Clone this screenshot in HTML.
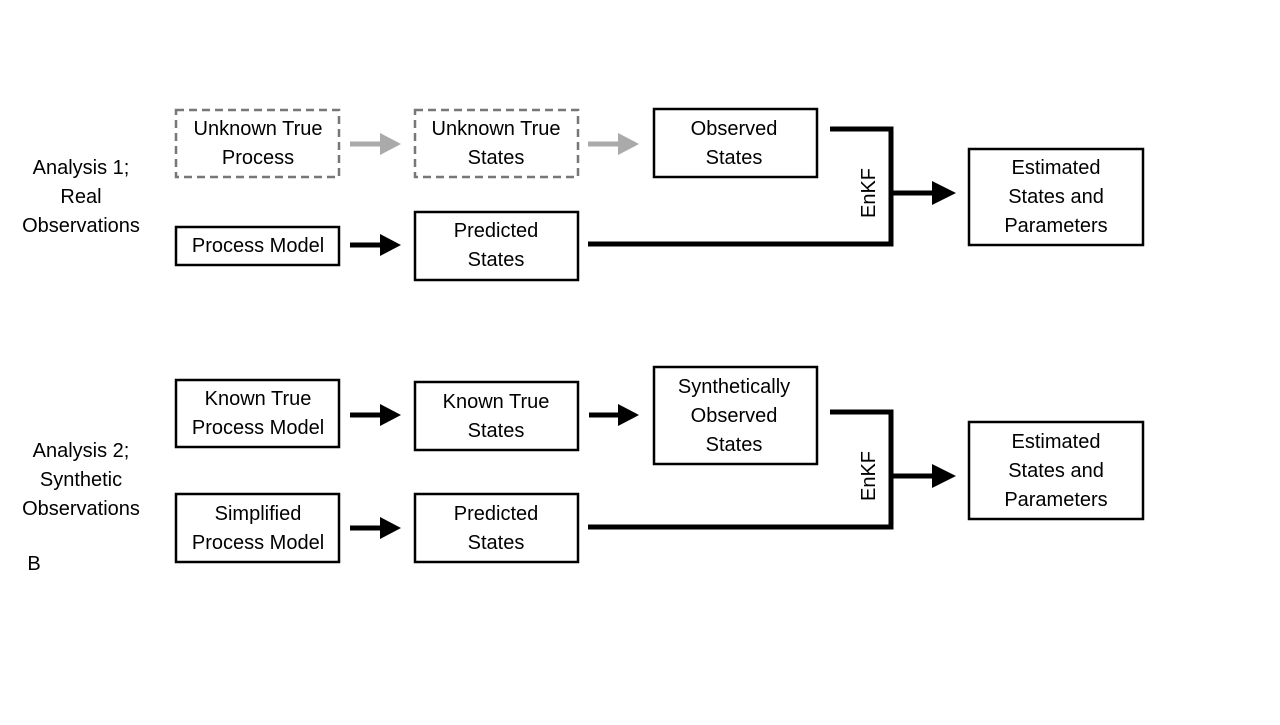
<!DOCTYPE html>
<html><head><meta charset="utf-8"><style>
html,body{margin:0;padding:0;background:#fff;}
text{font-family:"Liberation Sans",sans-serif;font-size:20px;fill:#000;text-anchor:middle;}
</style></head><body>
<svg width="1280" height="720" xmlns="http://www.w3.org/2000/svg">
<g fill="none" stroke="#000" stroke-width="2.5">
<rect x="176" y="110" width="163" height="67" stroke="#777" stroke-dasharray="8,5"/>
<rect x="415" y="110" width="163" height="67" stroke="#777" stroke-dasharray="8,5"/>
<rect x="654" y="109" width="163" height="68"/>
<rect x="176" y="227" width="163" height="38"/>
<rect x="415" y="212" width="163" height="68"/>
<rect x="969" y="149" width="174" height="96"/>
<rect x="176" y="380" width="163" height="67"/>
<rect x="415" y="382" width="163" height="68"/>
<rect x="654" y="367" width="163" height="97"/>
<rect x="176" y="494" width="163" height="68"/>
<rect x="415" y="494" width="163" height="68"/>
<rect x="969" y="422" width="174" height="97"/>
</g>
<g fill="none" stroke="#000" stroke-width="5">
<polyline points="830,129 891,129 891,244 588,244"/>
<line x1="891" y1="193" x2="935" y2="193"/>
<polyline points="830,412 891,412 891,527 588,527"/>
<line x1="891" y1="476" x2="935" y2="476"/>
<line x1="350" y1="245" x2="382" y2="245"/>
<line x1="350" y1="415" x2="382" y2="415"/>
<line x1="589" y1="415" x2="621" y2="415"/>
<line x1="350" y1="528" x2="382" y2="528"/>
<line x1="350" y1="144" x2="382" y2="144" stroke="#aaa"/>
<line x1="588" y1="144" x2="620" y2="144" stroke="#aaa"/>
</g>
<g fill="#000">
<polygon points="380,234 401,245 380,256"/>
<polygon points="380,404 401,415 380,426"/>
<polygon points="618,404 639,415 618,426"/>
<polygon points="380,517 401,528 380,539"/>
<polygon points="932,181 956,193 932,205"/>
<polygon points="932,464 956,476 932,488"/>
<polygon points="380,133 401,144 380,155" fill="#aaa"/>
<polygon points="618,133 639,144 618,155" fill="#aaa"/>
</g>
<text x="258" y="135">Unknown True</text><text x="258" y="164">Process</text>
<text x="496" y="135">Unknown True</text><text x="496" y="164">States</text>
<text x="734" y="135">Observed</text><text x="734" y="164">States</text>
<text x="258" y="252">Process Model</text>
<text x="496" y="237">Predicted</text><text x="496" y="266">States</text>
<text x="1056" y="174">Estimated</text><text x="1056" y="203">States and</text><text x="1056" y="232">Parameters</text>
<text x="81" y="174">Analysis 1;</text><text x="81" y="203">Real</text><text x="81" y="232">Observations</text>
<text transform="translate(875,193) rotate(-90)">EnKF</text>
<text x="258" y="405">Known True</text><text x="258" y="434">Process Model</text>
<text x="496" y="408">Known True</text><text x="496" y="437">States</text>
<text x="734" y="393">Synthetically</text><text x="734" y="422">Observed</text><text x="734" y="451">States</text>
<text x="258" y="520">Simplified</text><text x="258" y="549">Process Model</text>
<text x="496" y="520">Predicted</text><text x="496" y="549">States</text>
<text x="1056" y="448">Estimated</text><text x="1056" y="477">States and</text><text x="1056" y="506">Parameters</text>
<text x="81" y="457">Analysis 2;</text><text x="81" y="486">Synthetic</text><text x="81" y="515">Observations</text>
<text transform="translate(875,476) rotate(-90)">EnKF</text>
<text x="34" y="570">B</text>
</svg>
</body></html>
